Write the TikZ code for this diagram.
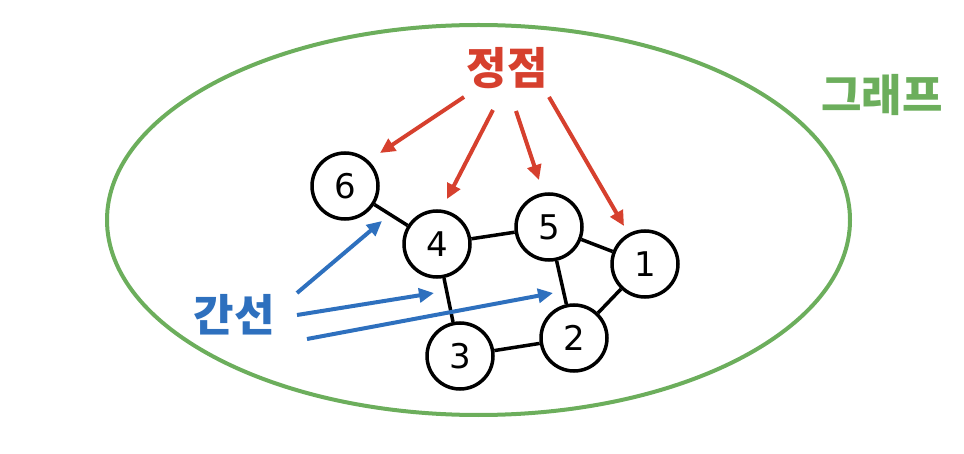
\documentclass[tikz,border=0pt]{standalone}
\usepackage{fontspec}
\setmainfont{DejaVu Sans}
\newfontfamily\krfont{Noto Sans CJK KR}
\usepackage{tikz}
\usetikzlibrary{arrows.meta}
\definecolor{vertexred}{RGB}{214,64,46}
\definecolor{edgeblue}{RGB}{46,112,190}
\definecolor{graphgreen}{RGB}{108,174,92}
\tikzset{
  vertex-node/.style={circle, draw=black, line width=3.5pt, fill=white,
    minimum size=66pt, inner sep=0pt, font=\fontsize{34}{36}\selectfont},
  edge-line/.style={draw=black, line width=3.5pt},
  graph-outline/.style={draw=graphgreen, line width=4pt},
  label-text/.style={font=\krfont\bfseries\fontsize{44}{48}\selectfont, inner sep=0pt},
  vertex-arrow/.style={-{Triangle[length=15pt, width=14pt]}, line width=4pt, draw=vertexred},
  edge-arrow/.style={-{Triangle[length=15pt, width=14pt]}, line width=4pt, draw=edgeblue}
}
\begin{document}
\begin{tikzpicture}[x=1pt, y=-1pt]
\useasboundingbox (0,0) rectangle (964,454);
% Outline of the graph
\draw[graph-outline] (478.5,220) ellipse [x radius=371.5, y radius=195];

% Vertices
\node[vertex-node] (v6) at (345,186) {6};
\node[vertex-node] (v4) at (437,244) {4};
\node[vertex-node] (v5) at (549,227) {5};
\node[vertex-node] (v1) at (645,264) {1};
\node[vertex-node] (v2) at (574,338) {2};
\node[vertex-node] (v3) at (460,356) {3};

% Edges
\foreach \a/\b in {v6/v4, v4/v5, v5/v1, v5/v2, v1/v2, v4/v3, v3/v2}
  \draw[edge-line] (\a) -- (\b);

% Labels
\node[label-text, text=vertexred] (vertexlabel) at (507,68) {정점};
\node[label-text, text=graphgreen] (graphlabel) at (882,95) {그래프};
\node[label-text, text=edgeblue] (edgelabel) at (234,315) {간선};

% Arrows to vertices
\foreach \n/\sx/\sy/\ex/\ey in {6/464/97/380/153, 4/493/110/447/199, 5/516/111/539/180, 1/549/97/624/226} {
  \coordinate (vs\n) at (\sx,\sy);
  \coordinate (ve\n) at (\ex,\ey);
  \draw[vertex-arrow] (vs\n) -- (ve\n);
}

% Arrows to edges
\foreach \n/\sx/\sy/\ex/\ey in {64/297/293/382/221, 43/297/315/434/293, 52/307/339/553/293} {
  \coordinate (es\n) at (\sx,\sy);
  \coordinate (ee\n) at (\ex,\ey);
  \draw[edge-arrow] (es\n) -- (ee\n);
}
\end{tikzpicture}
\end{document}
